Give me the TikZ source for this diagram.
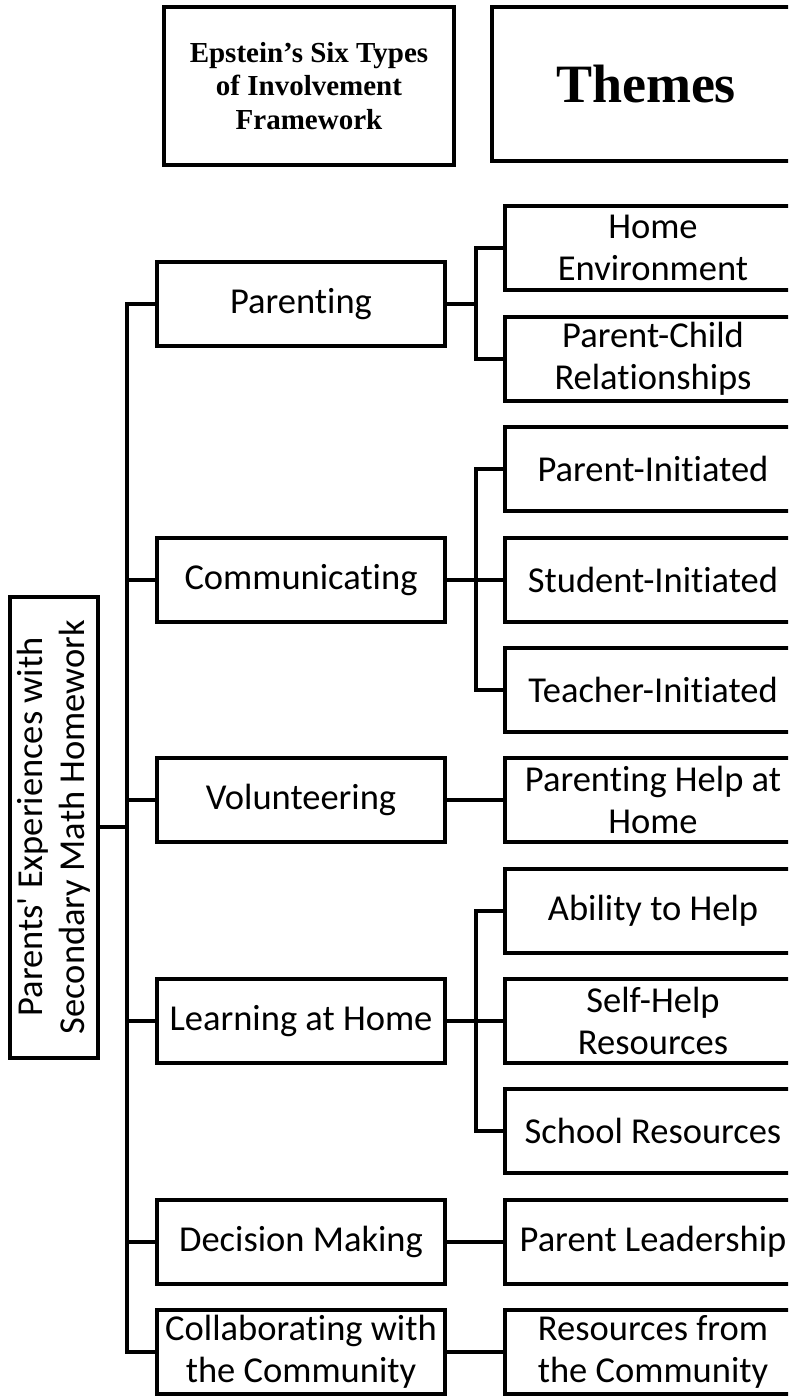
\documentclass[tikz,border=0pt]{standalone}
\usepackage{fontspec}
\setmainfont[Ligatures=NoCommon]{Carlito}
\newfontfamily\headfont{Liberation Serif}

\begin{document}
\begin{tikzpicture}[x=1pt, y=-1pt, line width=4pt,
    box/.style={draw, inner sep=0pt, align=center, minimum width=288pt, minimum height=84pt,
        font=\fontsize{36.5}{42}\selectfont},
    theme/.style={box, minimum width=296pt},
    head/.style={draw, inner sep=0pt, align=center, font=\headfont\bfseries}]
\useasboundingbox (0,0) rectangle (788,1397);
\clip (0,0) rectangle (788,1397);

% column headings
\node[head, minimum width=290pt, minimum height=158pt, font=\headfont\bfseries\fontsize{29}{33.5}\selectfont] (epstein) at (309,86) {Epstein’s Six Types\\of Involvement\\Framework};
\node[head, minimum width=308pt, minimum height=154pt, font=\headfont\bfseries\fontsize{54}{60}\selectfont] (themes) at (646,84) {Themes};

% root
\node[box, rotate=90, minimum width=461pt, minimum height=88pt] (root) at (54,827) {Parents\textquotesingle\ Experiences with\\Secondary Math Homework};

% six types
\node[box] (par) at (301,304) {Parenting};
\node[box] (com) at (301,580) {Communicating};
\node[box] (vol) at (301,800) {Volunteering};
\node[box] (lea) at (301,1021) {Learning at Home};
\node[box] (dec) at (301,1242) {Decision Making};
\node[box] (col) at (301,1352) {Collaborating with\\the Community};

% themes
\node[theme] (home) at (653,248) {Home\\Environment};
\node[theme] (pchild) at (653,359) {Parent-Child\\Relationships};
\node[theme] (pinit) at (653,469) {Parent-Initiated};
\node[theme] (sinit) at (653,580) {Student-Initiated};
\node[theme] (tinit) at (653,690) {Teacher-Initiated};
\node[theme] (phelp) at (653,800) {Parenting Help at\\Home};
\node[theme] (able) at (653,911) {Ability to Help};
\node[theme] (self) at (653,1021) {Self-Help\\Resources};
\node[theme] (school) at (653,1131) {School Resources};
\node[theme] (lead) at (653,1242) {Parent Leadership};
\node[theme] (comres) at (653,1352) {Resources from\\the Community};

% connectors
\coordinate (trunk) at (127,827);
\foreach \m in {par,com,vol,lea,dec,col}
{
    \draw (root.south) -- (trunk) |- (\m.west);
}
\foreach \m/\t in {par/home, par/pchild, com/pinit, com/sinit, com/tinit, vol/phelp,
    lea/able, lea/self, lea/school, dec/lead, col/comres}
{
    \draw (\m.east) -- ++(29,0) |- (\t.west);
}

\end{tikzpicture}
\end{document}
